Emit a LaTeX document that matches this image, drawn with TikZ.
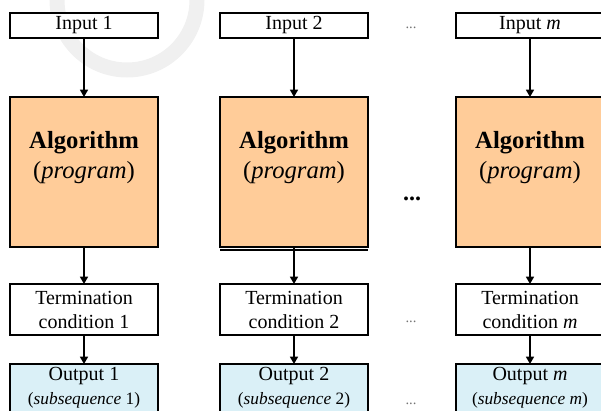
\documentclass[tikz,border=0pt]{standalone}
\usepackage{fontspec}
\setmainfont{Liberation Serif}
\usetikzlibrary{arrows.meta}
\definecolor{algfill}{RGB}{255,204,153}
\definecolor{outfill}{RGB}{218,240,247}
\begin{document}
\begin{tikzpicture}[x=0.75pt,y=-0.75pt,
 box/.style={draw=black, line width=1.1pt, minimum width=111pt, inner sep=0pt, outer sep=0pt, align=center},
 inbox/.style={box, fill=white, minimum height=18.75pt, font=\fontsize{15}{18}\selectfont},
 algbox/.style={box, fill=algfill, minimum height=112.5pt},
 termbox/.style={box, fill=white, minimum height=38.25pt, font=\fontsize{15}{18}\selectfont},
 outbox/.style={box, fill=outfill, minimum height=45pt},
 lbl/.style={inner sep=0pt, font=\fontsize{15}{18}\selectfont},
 alglbl/.style={inner sep=0pt, font=\fontsize{18.5}{22}\selectfont},
 sublbl/.style={inner sep=0pt, font=\fontsize{13}{15}\selectfont},
 arr/.style={line width=1.1pt, -{Triangle[width=6pt,length=5.5pt]}},
 dotsm/.style={inner sep=0pt, text=black!55, font=\fontsize{11}{13}\selectfont},
 dotbig/.style={inner sep=0pt, font=\bfseries\fontsize{18}{20}\selectfont}]
\useasboundingbox (0,0) rectangle (601,411);
\clip (0,0) rectangle (601,411);
\draw[line width=11.25pt, black!6] (127,0) circle[radius=52.5pt];
\foreach \cx/\k/\lab in {84/1/1, 294/2/2, 530/3/{\textit{m}}} {
  \node[inbox] (in\k) at (\cx,25.5) {Input \lab};
  \node[algbox] (alg\k) at (\cx,172) {};
  \node[alglbl] (algt\k) at (\cx,143) {\textbf{Algorithm}};
  \node[alglbl] (algp\k) at (\cx,173) {(\textit{program})};
  \node[termbox] (term\k) at (\cx,309.5) {Termination\\condition \lab};
  \node[outbox] (out\k) at (\cx,394) {};
  \node[lbl] (outt\k) at (\cx,376) {Output \lab};
  \node[sublbl] (outs\k) at (\cx,400) {(\textit{subsequence} \lab)};
  \draw[arr] (in\k) -- (alg\k);
  \draw[arr] (alg\k) -- (term\k);
  \draw[arr] (term\k) -- (out\k);
}
% second (double) bottom rule under the middle algorithm box
\draw[line width=1.1pt] ([yshift=-2.25pt]alg2.south west) -- ([yshift=-2.25pt]alg2.south east);
\node[dotsm] (d1) at (411,28) {...};
\node[dotbig] (d2) at (412,199) {...};
\node[dotsm] (d3) at (411,322) {...};
\node[dotsm] (d4) at (411,404) {...};
\end{tikzpicture}
\end{document}
